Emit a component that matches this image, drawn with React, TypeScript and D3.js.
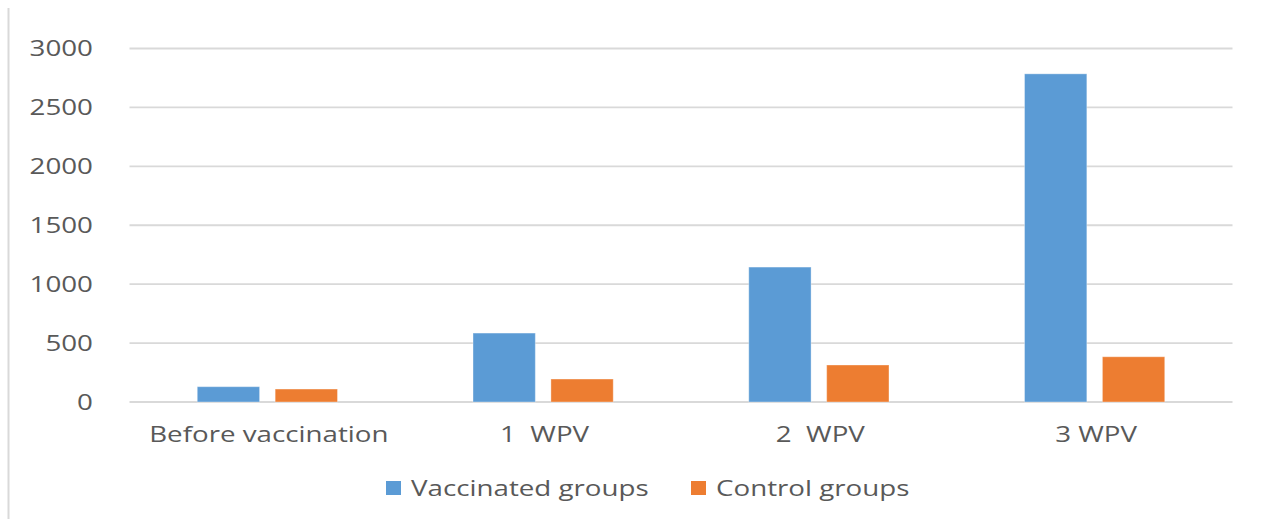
import React, { useEffect, useRef } from "react";
import * as d3 from "d3";

// values
const categories = ["Before vaccination", "1  WPV", "2  WPV", "3 WPV"];
const seriesNames = ["Vaccinated groups", "Control groups"];
const vaccinated = [130, 585, 1145, 2785];
const control = [110, 195, 314, 384];
const yTicks = [0, 500, 1000, 1500, 2000, 2500, 3000];

const colors = ["#5B9BD5", "#ED7D31"];

const W = 1268;
const H = 519;
const plot = { left: 129.5, right: 1232.5, top: 48.5, bottom: 402 };
const font = "'Open Sans', 'Noto Sans', sans-serif";
const textColor = "#595959";
// the reference text is horizontally stretched
const STRETCH = 1.26;

export default function App() {
  const ref = useRef<SVGSVGElement>(null);

  useEffect(() => {
    const svg = d3.select(ref.current);
    svg.selectAll("*").remove();

    const x = d3.scaleBand().domain(categories).range([plot.left, plot.right]);
    const x1 = d3
      .scaleBand()
      .domain(seriesNames)
      .range([0, x.bandwidth()])
      .paddingInner(0.2)
      .paddingOuter(0.87);
    const y = d3.scaleLinear().domain([0, 3000]).range([plot.bottom, plot.top]);

    // left frame edge
    svg
      .append("line")
      .attr("x1", 8.5)
      .attr("x2", 8.5)
      .attr("y1", 8)
      .attr("y2", H)
      .attr("stroke", "#d9d9d9")
      .attr("stroke-width", 2);

    // gridlines
    svg
      .append("g")
      .selectAll("line")
      .data(yTicks)
      .join("line")
      .attr("x1", plot.left)
      .attr("x2", plot.right)
      .attr("y1", (d) => y(d))
      .attr("y2", (d) => y(d))
      .attr("stroke", "#d9d9d9")
      .attr("stroke-width", 1.8);

    // tick labels
    svg
      .append("g")
      .selectAll("text")
      .data(yTicks)
      .join("text")
      .attr("x", 93)
      .attr("y", (d) => y(d))
      .attr("dy", "0.35em")
      .attr("text-anchor", "end")
      .text((d) => String(d));

    // bars
    const rows = categories.map((c, i) => ({ c, vals: [vaccinated[i], control[i]] }));
    const groups = svg
      .append("g")
      .selectAll("g")
      .data(rows)
      .join("g")
      .attr("transform", (d) => `translate(${x(d.c)},0)`);
    groups
      .selectAll("rect")
      .data((d) => d.vals.map((v, j) => ({ s: seriesNames[j], v, j })))
      .join("rect")
      .attr("x", (d) => x1(d.s)!)
      .attr("width", x1.bandwidth())
      .attr("y", (d) => y(d.v))
      .attr("height", (d) => y(0) - y(d.v))
      .attr("fill", (d) => colors[d.j])
      .attr("stroke", "#ffffff")
      .attr("stroke-opacity", 0.35)
      .attr("stroke-width", 1);

    // category labels
    svg
      .append("g")
      .selectAll("text")
      .data(categories)
      .join("text")
      .attr("x", (d) => x(d)! + x.bandwidth() / 2 + 1.5)
      .attr("y", 441.5)
      .attr("text-anchor", "middle")
      .style("white-space", "pre")
      .text((d) => d);

    // legend
    const legend = svg.append("g");
    const lx = [386, 691];
    seriesNames.forEach((s, i) => {
      legend
        .append("rect")
        .attr("x", lx[i])
        .attr("y", 481)
        .attr("width", 15)
        .attr("height", 14)
        .attr("fill", colors[i]);
      legend
        .append("text")
        .attr("x", lx[i] + 25)
        .attr("y", 496)
        .text(s);
    });

    svg
      .selectAll<SVGTextElement, unknown>("text")
      .attr("font-family", font)
      .attr("font-size", 22)
      .attr("fill", textColor)
      .each(function () {
        const w = this.getComputedTextLength();
        d3.select(this).attr("textLength", w * STRETCH).attr("lengthAdjust", "spacingAndGlyphs");
      });
  }, []);

  return <svg ref={ref} width={W} height={H} style={{ display: "block", position: "absolute", left: 0, top: 0, background: "#fff" }} />;
}
